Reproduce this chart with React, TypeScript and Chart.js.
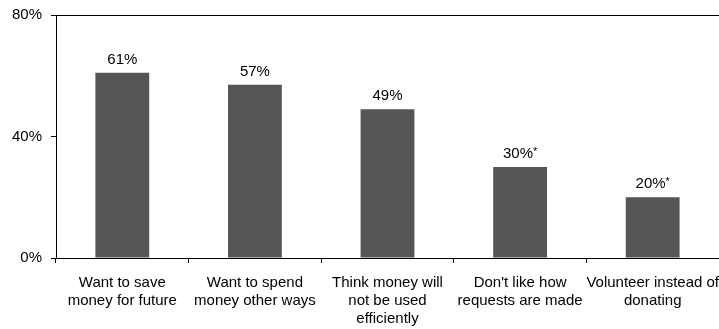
import React, { useEffect, useRef } from "react";
import { Chart, registerables } from "chart.js";

Chart.register(...registerables);

const categories: string[][] = [
  ["Want to save", "money for future"],
  ["Want to spend", "money other ways"],
  ["Think money will", "not be used", "efficiently"],
  ["Don't like how", "requests are made"],
  ["Volunteer instead of", "donating"],
];
const values = [61, 57, 49, 30, 20];
const valueLabels = ["61%", "57%", "49%", "30%", "20%"];
const labelMarks = ["", "", "", "*", "*"];
const yTicks = [0, 40, 80];

const FONT = "'Liberation Sans', Arial, sans-serif";

const valueLabelPlugin = {
  id: "valueLabels",
  afterDatasetsDraw(chart: any) {
    const ctx = chart.ctx;
    const meta = chart.getDatasetMeta(0);
    ctx.save();
    ctx.fillStyle = "#000";
    ctx.textBaseline = "alphabetic";
    meta.data.forEach((bar: any, i: number) => {
      const main = valueLabels[i];
      const mark = labelMarks[i];
      ctx.font = `15px ${FONT}`;
      const w1 = ctx.measureText(main).width;
      ctx.font = `11px ${FONT}`;
      const w2 = mark ? ctx.measureText(mark).width : 0;
      const total = w1 + w2;
      const x0 = bar.x - total / 2;
      const y = bar.y - 9;
      ctx.textAlign = "left";
      ctx.font = `15px ${FONT}`;
      ctx.fillText(main, x0, y);
      if (mark) {
        ctx.font = `11px ${FONT}`;
        ctx.fillText(mark, x0 + w1, y - 3);
      }
    });
    ctx.restore();
  },
};

export default function App() {
  const ref = useRef<HTMLCanvasElement | null>(null);
  useEffect(() => {
    document.body.style.margin = "0";
    if (!ref.current) return;
    const chart = new Chart(ref.current, {
      type: "bar",
      data: {
        labels: categories,
        datasets: [
          {
            data: values,
            backgroundColor: "#555555",
            borderWidth: 0,
            barPercentage: 0.406,
            categoryPercentage: 1,
          },
        ],
      },
      options: {
        animation: false,
        responsive: false,
        maintainAspectRatio: false,
        layout: { padding: { top: 15, right: 0, left: 0, bottom: 0 } },
        plugins: { legend: { display: false }, tooltip: { enabled: false } },
        scales: {
          x: {
            grid: {
              offset: true,
              drawOnChartArea: false,
              drawTicks: true,
              tickLength: 5,
              tickColor: "#000",
            },
            border: { color: "#000", width: 1 },
            ticks: {
              autoSkip: false,
              maxRotation: 0,
              minRotation: 0,
              padding: 11,
              color: "#000",
              font: { family: FONT, size: 15, lineHeight: 1.2 },
            },
            afterFit(scale: any) {
              scale.height = 71;
              scale.paddingLeft = 0;
              scale.paddingRight = 0;
            },
          },
          y: {
            min: 0,
            max: 80,
            afterBuildTicks(scale: any) {
              scale.ticks = yTicks.map((v) => ({ value: v }));
            },
            grid: {
              color: (c: any) => (c.tick && c.tick.value === 80 ? "#000" : "rgba(0,0,0,0)"),
              tickColor: "#000",
              tickLength: 5,
            },
            border: { color: "#000", width: 1 },
            ticks: {
              padding: 9,
              color: "#000",
              font: { family: FONT, size: 15 },
              callback: (v: any) => `${v}%`,
            },
            afterFit(scale: any) {
              scale.width = 56;
              scale.paddingTop = 0;
              scale.paddingBottom = 0;
            },
          },
        },
      },
      plugins: [valueLabelPlugin],
    });
    return () => chart.destroy();
  }, []);
  return (
    <div style={{ width: 719, height: 329 }}>
      <canvas ref={ref} width={719} height={329} style={{ display: "block" }} />
    </div>
  );
}
